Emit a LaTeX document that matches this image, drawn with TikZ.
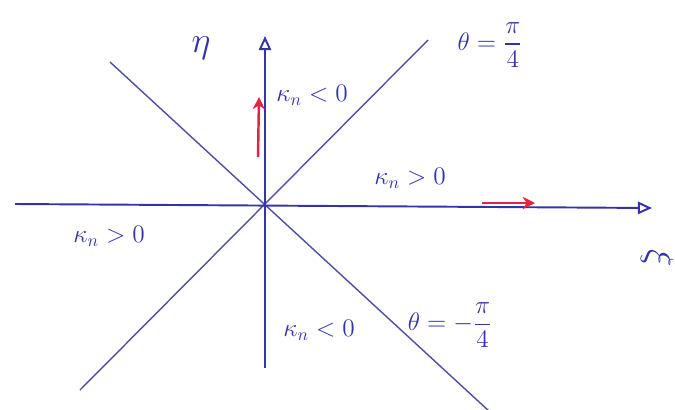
\documentclass[tikz,border=0pt]{standalone}
\usepackage{amsmath}
\usetikzlibrary{arrows.meta}
\definecolor{ink}{RGB}{52,52,170}
\definecolor{pencil}{RGB}{80,80,160}
\definecolor{redink}{RGB}{226,36,64}
\begin{document}
\begin{tikzpicture}[x=0.02cm,y=-0.02cm,
  axis/.style={draw,ink,line width=1.1pt,-{Triangle[open,length=8pt,width=7pt]}},
  ray/.style={draw,pencil,line width=0.8pt},
  flow/.style={draw,redink,line width=1.4pt,-{Stealth[length=7pt,width=7pt]}},
  lbl/.style={ink,font=\Large}]
\useasboundingbox (0,0) rectangle (675,409);
\fill[white] (0,0) rectangle (675,409);

\coordinate (O) at (265,205);
\coordinate (xl) at (15,204);
\coordinate (xr) at (652,208);
\coordinate (yb) at (265,368);
\coordinate (yt) at (265,36);
\coordinate (p1) at (80,390);
\coordinate (p2) at (428,40);
\coordinate (m1) at (110,62);
\coordinate (m2) at (490,412);

\path[ray] (p1) -- (p2);
\path[ray] (m1) -- (m2);
\path[axis] (xl) -- (xr);
\path[axis] (yb) -- (yt);

\node[lbl,font=\huge] (eta) at (201,48) {$\eta$};
\node[lbl,font=\huge,rotate=-90,inner sep=0pt] (xi) at (657,258) {$\xi$};
\node[lbl] (up) at (312,95) {$\kappa_n<0$};
\node[lbl] (right) at (410,178) {$\kappa_n>0$};
\node[lbl] (left) at (109,236) {$\kappa_n>0$};
\node[lbl] (down) at (319,330) {$\kappa_n<0$};
\node[lbl] (tp) at (490,45) {$\theta=\dfrac{\pi}{4}$};
\node[lbl] (tm) at (450,325) {$\theta=-\dfrac{\pi}{4}$};

\coordinate (ua) at (258,157);
\coordinate (ub) at (259,97);
\coordinate (ra) at (482,203);
\coordinate (rb) at (535,203);
\path[flow] (ua) -- (ub);
\path[flow] (ra) -- (rb);
\end{tikzpicture}
\end{document}
